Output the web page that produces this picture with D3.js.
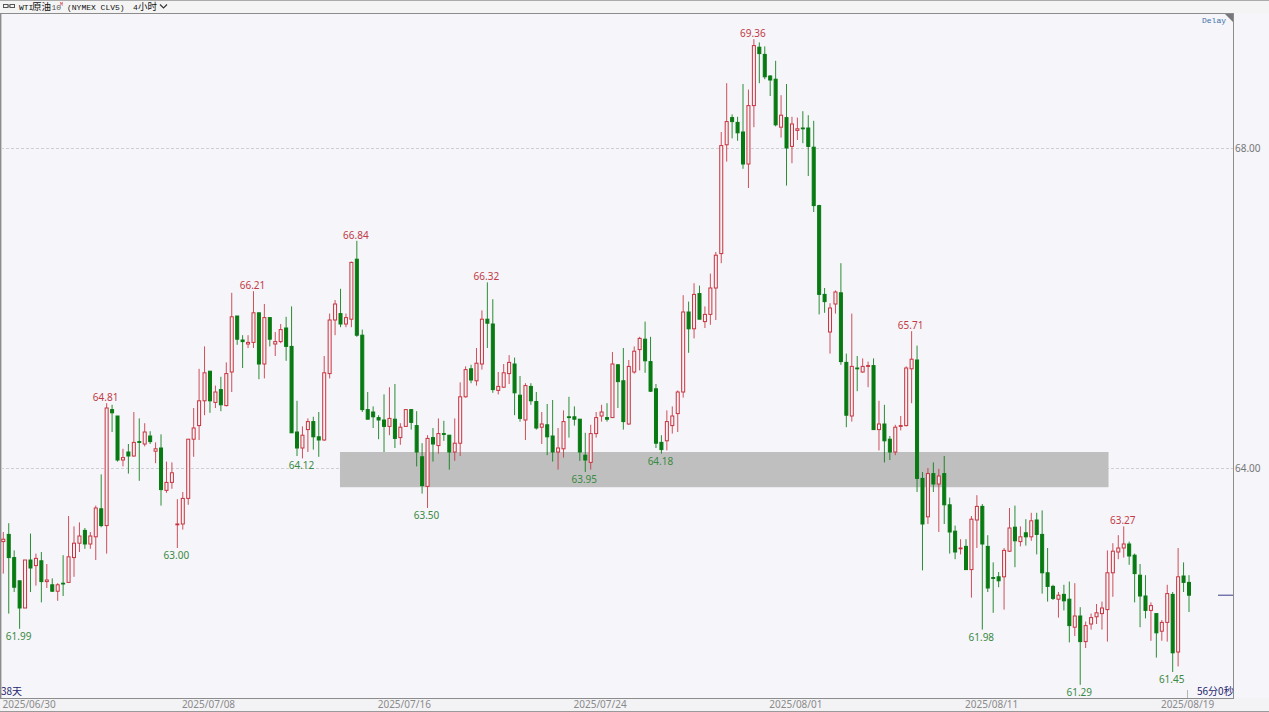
<!DOCTYPE html>
<html><head><meta charset="utf-8">
<script src="https://cdnjs.cloudflare.com/ajax/libs/d3/7.8.5/d3.min.js"></script>
<style>
html,body{margin:0;padding:0;background:#f5f5fa;overflow:hidden}
svg{display:block}
text{font-family:"Noto Sans",sans-serif}
</style></head><body>
<svg id="c" width="1269" height="712"></svg>
<script>
const opens=[63.08,63.17,62.88,62.59,62.25,62.85,62.78,62.84,62.58,62.54,
62.46,62.56,62.57,62.88,63.06,63.22,63.05,63.14,63.49,63.28,
64.73,64.65,64.10,64.20,64.15,64.33,64.30,64.40,64.21,64.25,
63.72,63.82,63.29,63.30,63.62,64.36,64.53,64.84,65.21,64.82,
64.98,64.78,65.20,65.90,65.60,65.55,65.57,65.94,65.30,65.88,
65.55,65.58,65.75,65.52,64.45,64.25,64.48,64.58,64.39,64.35,
65.18,65.85,65.93,65.80,65.86,66.61,65.66,64.73,64.70,64.63,
64.60,64.52,64.61,64.38,64.52,64.73,64.53,64.14,63.77,64.38,
64.28,64.43,64.41,64.20,64.31,64.89,65.24,65.09,65.30,65.86,
65.80,64.97,65.01,65.18,65.30,64.91,64.60,65.02,64.83,64.51,
64.54,64.40,64.20,64.24,64.64,64.64,64.61,64.16,64.07,64.43,
64.65,64.63,64.63,65.29,65.09,64.55,65.20,65.48,65.61,65.33,
64.99,64.32,64.34,64.53,64.68,64.95,65.95,65.74,66.18,65.83,
65.92,66.25,66.68,68.04,68.38,68.32,68.20,67.80,68.53,69.26,
69.17,68.90,68.86,68.26,68.38,68.02,68.22,68.25,68.25,68.01,
67.28,66.17,65.70,66.05,66.19,65.32,64.65,65.25,65.20,65.27,
65.28,64.48,64.55,64.36,64.20,64.52,64.53,65.24,65.35,63.87,
63.39,63.93,63.80,63.93,63.54,63.21,62.99,63.02,62.73,63.35,
63.52,63.02,62.63,62.64,62.64,62.96,63.26,63.08,63.19,63.14,
63.35,63.17,62.69,62.52,62.36,62.42,62.36,62.01,62.15,61.83,
62.05,62.14,62.18,62.23,62.69,62.95,63.00,63.05,62.91,62.66,
62.40,62.22,62.18,61.96,62.07,62.42,61.70,62.65,62.57];
const closes=[63.11,62.88,62.51,62.25,62.85,62.75,62.87,62.58,62.60,62.46,
62.54,62.55,62.89,63.06,63.15,63.05,63.15,63.50,63.28,64.75,
64.69,64.10,64.13,64.15,64.32,64.32,64.45,64.33,64.24,63.73,
63.82,63.94,63.30,63.62,64.36,64.50,64.84,65.19,64.84,64.95,
64.79,65.18,65.89,65.61,65.58,65.57,65.94,65.30,65.88,65.61,
65.58,65.73,65.52,64.44,64.25,64.41,64.58,64.39,64.35,65.19,
65.85,66.05,65.80,65.88,66.57,65.66,64.73,64.61,64.64,64.60,
64.52,64.62,64.37,64.51,64.73,64.57,64.20,63.78,64.37,64.30,
64.43,64.42,64.20,64.31,64.89,65.23,65.10,65.31,65.86,65.81,
64.98,65.02,65.19,65.32,64.94,64.62,65.03,64.84,64.50,64.55,
64.39,64.20,64.25,64.58,64.63,64.61,64.20,64.10,64.43,64.63,
64.70,64.61,65.30,65.08,64.58,65.27,65.46,65.62,65.34,64.96,
64.31,64.23,64.58,64.65,64.95,65.95,65.74,66.17,65.86,65.92,
66.25,66.66,68.03,68.33,68.33,68.19,67.80,68.53,69.28,69.18,
68.89,68.85,68.29,68.41,68.00,68.30,68.24,68.24,68.02,67.28,
66.17,66.08,66.00,66.20,65.33,64.66,65.27,65.24,65.27,65.28,
64.48,64.55,64.34,64.20,64.51,64.53,65.25,65.36,63.87,63.30,
63.93,63.80,63.90,63.54,63.20,62.95,63.00,62.73,63.36,63.52,
63.05,62.50,62.62,62.59,62.97,63.25,63.09,63.14,63.14,63.34,
63.17,62.69,62.52,62.37,62.41,62.34,62.03,62.15,61.83,62.03,
62.13,62.19,62.25,62.69,62.96,63.00,63.05,62.90,62.68,62.40,
62.22,62.28,61.94,62.07,62.43,61.69,62.64,62.57,62.41];
const highs=[63.20,63.31,62.97,62.59,62.85,63.18,62.93,62.95,62.80,62.62,
62.56,62.91,63.40,63.27,63.32,63.25,63.20,63.53,63.92,64.81,
64.79,64.65,64.24,64.30,64.70,64.62,64.56,64.46,64.32,64.42,
64.08,64.07,63.61,63.70,64.36,64.75,65.24,65.52,65.21,65.03,
65.14,65.32,66.19,65.90,65.66,65.66,66.21,65.94,66.05,65.88,
65.70,65.80,65.89,66.02,64.84,64.52,64.62,64.64,64.70,65.40,
65.93,66.10,66.24,65.93,66.58,66.84,65.73,64.95,64.77,64.66,
64.92,65.01,65.05,64.56,64.73,64.73,64.71,64.31,64.41,64.50,
64.62,64.59,64.41,64.62,65.07,65.27,65.29,65.50,65.97,66.32,
66.11,65.20,65.30,65.41,65.38,65.15,65.06,65.06,64.95,64.70,
64.80,64.85,64.50,64.72,64.89,64.77,64.61,64.44,64.54,64.70,
64.79,64.81,65.45,65.30,65.50,65.35,65.52,65.64,65.83,65.64,
65.05,64.41,64.72,64.77,64.97,66.16,66.08,66.31,66.28,66.02,
66.43,66.70,68.20,68.81,68.42,68.39,68.80,68.73,69.36,69.32,
69.27,68.91,69.09,68.66,68.80,68.39,68.38,68.46,68.41,68.34,
67.29,66.25,66.06,66.22,66.56,65.43,65.93,65.40,65.37,65.33,
65.37,64.84,64.79,64.40,64.54,64.65,65.27,65.71,65.53,63.95,
64.00,64.07,63.99,64.15,63.63,63.28,63.11,63.11,63.40,63.66,
63.55,63.16,62.82,62.70,63.00,63.50,63.53,63.27,63.36,63.44,
63.44,63.47,63.00,62.54,62.45,62.54,62.58,62.56,62.26,62.08,
62.18,62.30,62.33,62.97,63.06,63.16,63.27,63.08,62.93,62.80,
62.66,62.32,62.18,62.10,62.54,62.45,63.00,62.82,62.66];
const lows=[62.68,62.18,62.45,61.99,62.25,62.45,62.53,62.32,62.50,62.45,
62.34,62.40,62.57,62.64,62.95,62.99,62.99,62.85,63.26,62.93,
64.45,64.08,64.02,63.93,64.14,63.84,64.27,64.30,64.06,63.53,
63.69,63.74,63.00,63.23,63.54,64.14,64.35,64.66,64.69,64.75,
64.71,64.77,64.95,65.54,65.25,65.50,65.50,65.11,65.12,65.52,
65.40,65.56,65.34,64.44,64.15,64.12,64.20,64.23,64.14,64.34,
65.12,65.66,65.76,65.76,65.76,65.64,64.70,64.61,64.50,64.36,
64.20,64.41,64.25,64.29,64.52,64.48,64.02,63.68,63.50,64.08,
64.18,64.34,63.98,64.09,64.15,64.88,65.06,65.03,65.23,65.50,
64.94,64.92,65.00,65.05,64.66,64.58,64.35,64.79,64.48,64.30,
64.16,64.08,63.98,64.13,64.38,64.53,64.09,63.95,63.98,64.38,
64.58,64.58,64.63,64.75,64.48,64.54,65.18,65.22,65.19,64.95,
64.25,64.18,64.22,64.43,64.45,64.88,65.44,65.62,65.86,65.75,
65.79,65.85,66.56,67.83,68.12,68.09,67.74,67.50,68.26,68.81,
68.86,68.65,68.27,68.13,67.53,67.81,68.10,68.06,67.65,67.20,
65.92,65.94,65.43,65.93,65.29,64.51,64.58,64.96,65.19,65.01,
64.48,64.22,64.07,64.10,64.16,64.47,64.52,64.81,63.70,62.72,
63.30,63.70,63.20,63.30,62.93,62.86,62.92,62.73,62.38,63.00,
61.98,62.45,62.19,62.51,62.23,62.95,62.76,63.02,63.03,63.09,
62.92,62.43,62.33,62.35,62.13,62.22,61.82,61.90,61.29,61.75,
61.98,62.05,61.98,61.83,62.39,62.86,62.88,62.79,62.32,62.01,
62.12,61.84,61.63,61.84,61.83,61.45,61.52,62.45,62.20];
const priceTicks=[64,68];
const dateLabels=["2025/06/30","2025/07/08","2025/07/16","2025/07/24","2025/08/01","2025/08/11","2025/08/19"];
const dateIdx=[2,38,74,110,146,182,218];
const peakIdx=[19,46,65,89,138,167,206];
const troughIdx=[3,32,55,78,107,121,180,198,215];
const zonePrices=[64.2,63.76], zoneIdx=[61.9,203.2];

const RED="#c8323e",GREEN="#087a12";
const svg=d3.select("#c");
const x=d3.scaleLinear().domain([0,218]).range([3.3,1189]);
const y=d3.scaleLinear().domain([64,68]).range([468,148]);

// chrome
svg.append("rect").attr("width",1269).attr("height",13).attr("fill","#f4f4f4");
svg.append("rect").attr("y",698).attr("width",1269).attr("height",14).attr("fill","#f3f3f6");
svg.append("rect").attr("x",0).attr("y",0).attr("width",1269).attr("height",0.8).attr("fill","#999");
svg.append("rect").attr("x",0).attr("y",13).attr("width",1234).attr("height",1).attr("fill","#8c8c8c");
svg.append("rect").attr("x",0).attr("y",698).attr("width",1234).attr("height",1).attr("fill","#8c8c8c");
svg.append("rect").attr("x",0).attr("y",711).attr("width",1269).attr("height",1).attr("fill","#999");
svg.append("rect").attr("x",0).attr("y",13).attr("width",1.4).attr("height",686).attr("fill","#8c8c8c");
svg.append("rect").attr("x",1233).attr("y",13).attr("width",1).attr("height",686).attr("fill","#8c8c8c");

// grid
svg.append("g").selectAll("line").data(priceTicks).join("line")
 .attr("x1",1).attr("x2",1233).attr("y1",d=>y(d)+.5).attr("y2",d=>y(d)+.5)
 .attr("stroke","#cfcfd3").attr("stroke-width",1).attr("stroke-dasharray","3,2");

// zone
svg.append("rect").attr("x",x(zoneIdx[0])).attr("width",x(zoneIdx[1])-x(zoneIdx[0]))
 .attr("y",y(zonePrices[0])).attr("height",y(zonePrices[1])-y(zonePrices[0])).attr("fill","#bfbfbf");

// axes
const ya=d3.axisRight(y).tickValues(priceTicks).tickSize(0).tickPadding(2).tickFormat(d3.format(".2f"));
const yg=svg.append("g").attr("transform","translate(1233,0)").call(ya);
yg.select(".domain").remove();
yg.selectAll("text").attr("fill","#777").style("font-size","10px");
const xa=d3.axisBottom(x).tickValues(dateIdx).tickSize(0).tickPadding(0).tickFormat((d,i)=>dateLabels[i]);
const xg=svg.append("g").attr("transform","translate(0,701)").call(xa);
xg.select(".domain").remove();
xg.selectAll("text").attr("fill","#8a8a8a").style("font-size","10px").attr("dx",-2);
xg.selectAll("g.tick").filter((d,i)=>i===0).select("text").attr("text-anchor","start").attr("dx",0).attr("x",2-x(dateIdx[0]));

// candles
const idx=d3.range(opens.length);
const g=svg.append("g");
g.selectAll("line.w").data(idx).join("line").attr("class","w")
 .attr("x1",x).attr("x2",x).attr("y1",i=>y(highs[i])).attr("y2",i=>y(lows[i]))
 .attr("stroke",i=>closes[i]>=opens[i]?RED:GREEN).attr("stroke-opacity",.85).attr("stroke-width",1);
g.selectAll("rect.b").data(idx).join("rect").attr("class","b")
 .attr("x",i=>x(i)-1.5).attr("width",3)
 .attr("y",i=>y(Math.max(opens[i],closes[i])))
 .attr("height",i=>Math.max(.6,Math.abs(y(opens[i])-y(closes[i]))))
 .attr("fill",i=>closes[i]>=opens[i]?"#f8f2f4":GREEN)
 .attr("stroke",i=>closes[i]>=opens[i]?RED:GREEN).attr("stroke-width",1);

// labels
const lab=svg.append("g").style("font-size","10px").attr("text-anchor","middle");
lab.selectAll("text.h").data(peakIdx).join("text").attr("class","h")
 .attr("x",i=>x(i)-1).attr("y",i=>y(highs[i])-2).attr("fill","#c23a46")
 .text(i=>highs[i].toFixed(2));
lab.selectAll("text.l").data(troughIdx).join("text").attr("class","l")
 .attr("x",i=>x(i)-1).attr("y",i=>y(lows[i])+11).attr("fill","#3a8a42")
 .text(i=>lows[i].toFixed(2));

// last price marker
svg.append("line").attr("x1",1218).attr("x2",1233).attr("y1",y(closes[218])).attr("y2",y(closes[218])).attr("stroke","#3c3c8c");

// header
const mono='"Liberation Mono",monospace', cjk='"Noto Sans CJK SC",sans-serif';
const hdr=svg.append("g").attr("fill","#111");
hdr.append("rect").attr("x",3.5).attr("y",4.5).attr("width",4.5).attr("height",3).attr("fill","none").attr("stroke","#555");
hdr.append("rect").attr("x",10).attr("y",4.5).attr("width",4.5).attr("height",3).attr("fill","none").attr("stroke","#555");
hdr.append("line").attr("x1",8).attr("x2",10).attr("y1",6).attr("y2",6).attr("stroke","#555");
hdr.append("text").attr("x",19).attr("y",9.5).style("font-family",mono).style("font-size","8px").text("WTI");
hdr.append("text").attr("x",32).attr("y",10).style("font-family",cjk).style("font-size","9.5px").text("原油");
hdr.append("text").attr("x",51.5).attr("y",9.5).style("font-family",mono).style("font-size","8px").attr("fill","#555").text("10");
hdr.append("text").attr("x",60).attr("y",6).style("font-family",mono).style("font-size","5px").attr("fill","#c83232").text("M");
hdr.append("text").attr("x",67).attr("y",9.5).style("font-family",mono).style("font-size","8px").text("(NYMEX CLV5)");
hdr.append("text").attr("x",133).attr("y",9.5).style("font-family",mono).style("font-size","8px").text("4");
hdr.append("text").attr("x",138).attr("y",10).style("font-family",cjk).style("font-size","9.5px").text("小时");
hdr.append("path").attr("d","M160 4.5L163.5 8L167 4.5").attr("fill","none").attr("stroke","#333").attr("stroke-width",1.1);

// corner
svg.append("path").attr("d","M1225 14H1233V22Z").attr("fill","#77777c");
svg.append("text").attr("x",1202).attr("y",23).style("font-family",mono).style("font-size","8px").attr("fill","#3c6ea8").text("Delay");
svg.append("text").attr("x",1).attr("y",695).style("font-family",cjk).style("font-size","10px").attr("fill","#1e1e6e").text("38天");
svg.append("text").attr("x",1197).attr("y",695).style("font-family",cjk).style("font-size","10px").attr("fill","#1e1e6e").text("56分0秒");
svg.append("line").attr("x1",x(218)-1.5).attr("x2",x(218)-1.5).attr("y1",690).attr("y2",698).attr("stroke","#b5b5b5");
</script>
</body></html>
